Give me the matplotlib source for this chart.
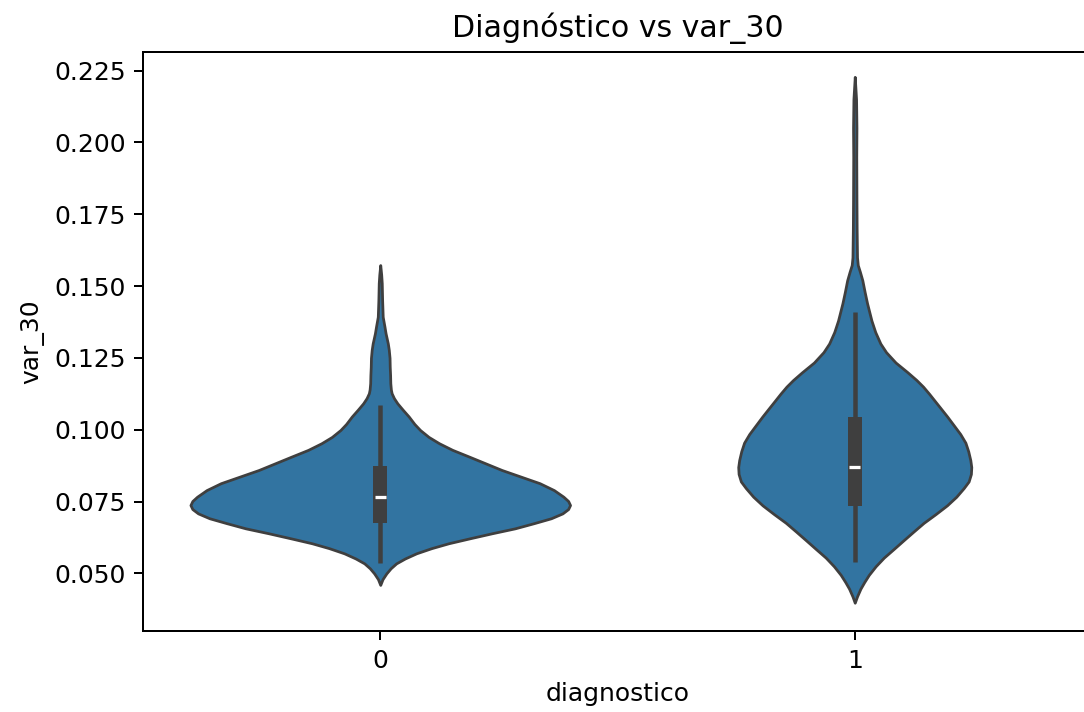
import matplotlib
matplotlib.use("Agg")
import matplotlib.pyplot as plt
import numpy as np

# categories on the x axis
groups = ["0", "1"]

# violin outlines: var_30 value and relative density (max = 1)
v0_values = [0.0460, 0.0480, 0.0500, 0.0518, 0.0535, 0.0552, 0.0570, 0.0588,
             0.0605, 0.0622, 0.0640, 0.0657, 0.0675, 0.0692, 0.0709, 0.0724,
             0.0738, 0.0752, 0.0767, 0.0790, 0.0814, 0.0837, 0.0860, 0.0883,
             0.0906, 0.0930, 0.0953, 0.0975, 0.0999, 0.1020, 0.1046, 0.1070,
             0.1092, 0.1110, 0.1127, 0.1140, 0.1162, 0.1190, 0.1219, 0.1250,
             0.1278, 0.1300, 0.1336, 0.1360, 0.1393, 0.1450, 0.1510, 0.1540,
             0.1573]
v0_density = [0.0, 0.012, 0.032, 0.055, 0.084, 0.130, 0.190, 0.270,
              0.360, 0.470, 0.590, 0.710, 0.810, 0.900, 0.960, 0.990,
              1.0, 0.990, 0.965, 0.915, 0.840, 0.740, 0.640, 0.555,
              0.470, 0.380, 0.310, 0.255, 0.210, 0.180, 0.150, 0.118,
              0.090, 0.072, 0.060, 0.056, 0.053, 0.052, 0.050, 0.049,
              0.045, 0.040, 0.028, 0.022, 0.013, 0.010, 0.008, 0.005,
              0.0]

v1_values = [0.0398, 0.0420, 0.0447, 0.0470, 0.0495, 0.0525, 0.0555, 0.0585,
             0.0616, 0.0646, 0.0676, 0.0706, 0.0737, 0.0767, 0.0797, 0.0820,
             0.0846, 0.0870, 0.0894, 0.0925, 0.0955, 0.0985, 0.1016, 0.1046,
             0.1076, 0.1100, 0.1125, 0.1150, 0.1173, 0.1200, 0.1234, 0.1270,
             0.1300, 0.1340, 0.1380, 0.1440, 0.1480, 0.1520, 0.1550, 0.1573,
             0.1600, 0.1650, 0.1700, 0.1800, 0.1950, 0.2050, 0.2150, 0.2228]
v1_density = [0.0, 0.012, 0.030, 0.050, 0.074, 0.110, 0.153, 0.205,
              0.258, 0.310, 0.363, 0.425, 0.486, 0.535, 0.574, 0.600,
              0.612, 0.614, 0.609, 0.598, 0.583, 0.556, 0.521, 0.487,
              0.451, 0.422, 0.392, 0.360, 0.325, 0.278, 0.215, 0.165,
              0.135, 0.108, 0.088, 0.065, 0.052, 0.040, 0.027, 0.016,
              0.012, 0.011, 0.010, 0.009, 0.008, 0.009, 0.007, 0.0]

# inner box: lower whisker, q1, median, q3, upper whisker
box0 = [0.0537, 0.0677, 0.0765, 0.0874, 0.1086]
box1 = [0.0541, 0.0735, 0.0871, 0.1046, 0.1411]

yticks = [0.050, 0.075, 0.100, 0.125, 0.150, 0.175, 0.200, 0.225]

fill = "#3274a1"
dark = "#3f3f3f"

fig = plt.figure(figsize=(1084 / 180, 712 / 180), dpi=180)
ax = fig.add_axes([143 / 1084, 81 / 712, 949 / 1084, 579 / 712])

outlines = [(v0_values, v0_density, box0), (v1_values, v1_density, box1)]
for pos, (vals, dens, box) in enumerate(outlines):
    vals = np.array(vals)
    half = np.array(dens) * 0.4
    ax.fill_betweenx(vals, pos - half, pos + half, facecolor=fill,
                     edgecolor=dark, linewidth=1.1, joinstyle="round", zorder=1)
    lo, q1, med, q3, hi = box
    ax.vlines(pos, lo, hi, color=dark, linewidth=1.8, zorder=2)
    ax.vlines(pos, q1, q3, color=dark, linewidth=5.6, zorder=3)
    ax.hlines(med, pos - 0.012, pos + 0.012, color="white", linewidth=1.3, zorder=4)

ax.set_xlim(-0.5, 1.5)
ax.set_ylim(0.02997, 0.23144)
ax.set_xticks(range(len(groups)))
ax.set_xticklabels(groups)
ax.set_yticks(yticks)
ax.set_yticklabels([f"{t:.3f}" for t in yticks])
ax.set_xlabel("diagnostico")
ax.set_ylabel("var_30")
ax.set_title("Diagnóstico vs var_30", fontsize=12)

fig.savefig("out.png", dpi=180)
